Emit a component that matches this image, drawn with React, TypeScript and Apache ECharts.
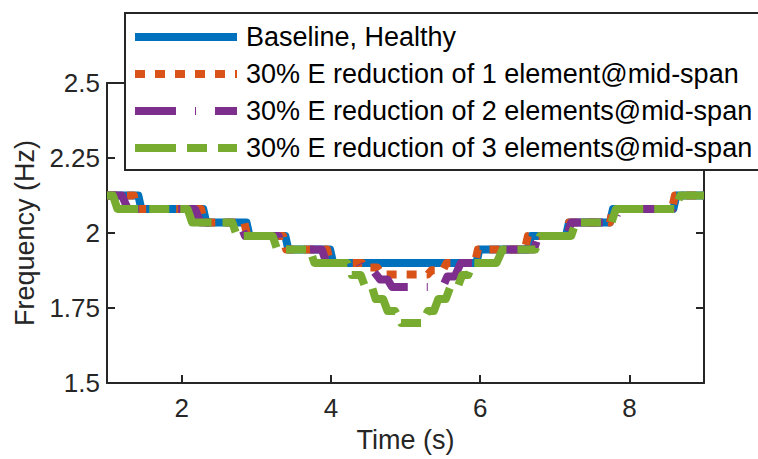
import React, { useEffect, useRef } from "react";
import * as echarts from "echarts";

const FONT = '"Liberation Sans", Arial, Helvetica, sans-serif';
const AXIS = "#262626";

const legendLabels = [
  "Baseline, Healthy",
  "30% E reduction of 1 element@mid-span",
  "30% E reduction of 2 elements@mid-span",
  "30% E reduction of 3 elements@mid-span",
];
const seriesColors = ["#0072BD", "#D95319", "#7E2F8E", "#77AC30"];
const xTickValues = [2, 4, 6, 8];

// [time (s), frequency (Hz)]
const baseline: [number, number][] = [
  [1, 2.125], [1.42, 2.125], [1.46, 2.08], [2.29, 2.08], [2.33, 2.035],
  [2.87, 2.035], [2.91, 1.99], [3.39, 1.99], [3.43, 1.945], [3.99, 1.945],
  [4.03, 1.9], [5.95, 1.9], [5.99, 1.945], [6.64, 1.945], [6.68, 1.99],
  [7.15, 1.99], [7.19, 2.035], [7.74, 2.035], [7.78, 2.08], [8.59, 2.08],
  [8.63, 2.125], [9, 2.125],
];
const oneElement: [number, number][] = [
  [1, 2.125], [1.36, 2.125], [1.4, 2.08], [2.26, 2.08], [2.3, 2.035],
  [2.84, 2.035], [2.88, 1.99], [3.36, 1.99], [3.4, 1.945], [3.95, 1.945],
  [3.99, 1.9], [4.42, 1.9], [4.46, 1.885], [4.62, 1.885], [4.68, 1.862],
  [5.3, 1.862], [5.35, 1.876], [5.5, 1.876], [5.55, 1.9], [5.93, 1.9],
  [5.97, 1.945], [6.6, 1.945], [6.64, 1.99], [7.15, 1.99], [7.19, 2.035],
  [7.74, 2.035], [7.78, 2.08], [8.57, 2.08], [8.61, 2.125], [9, 2.125],
];
const twoElements: [number, number][] = [
  [1, 2.125], [1.2, 2.125], [1.28, 2.08], [2.18, 2.08], [2.25, 2.035],
  [2.78, 2.035], [2.85, 1.99], [3.3, 1.99], [3.36, 1.945], [3.88, 1.945],
  [3.94, 1.9], [4.38, 1.9], [4.44, 1.87], [4.58, 1.87], [4.66, 1.845],
  [4.76, 1.845], [4.82, 1.82], [5.5, 1.82], [5.56, 1.855], [5.66, 1.855],
  [5.74, 1.9], [6.26, 1.9], [6.32, 1.945], [6.72, 1.945], [6.78, 1.99],
  [7.16, 1.99], [7.22, 2.035], [7.8, 2.035], [7.86, 2.08], [8.58, 2.08],
  [8.64, 2.125], [9, 2.125],
];
const threeElements: [number, number][] = [
  [1, 2.125], [1.08, 2.125], [1.14, 2.08], [2.08, 2.08], [2.14, 2.035],
  [2.68, 2.035], [2.74, 1.99], [3.22, 1.99], [3.28, 1.945], [3.72, 1.945],
  [3.78, 1.9], [4.22, 1.9], [4.28, 1.86], [4.4, 1.86], [4.46, 1.82],
  [4.55, 1.82], [4.6, 1.78], [4.7, 1.78], [4.76, 1.74], [4.86, 1.74],
  [4.94, 1.7], [5.22, 1.7], [5.3, 1.74], [5.38, 1.74], [5.44, 1.78],
  [5.54, 1.78], [5.6, 1.82], [5.7, 1.82], [5.76, 1.86], [5.84, 1.86],
  [5.9, 1.9], [6.22, 1.9], [6.3, 1.945], [6.74, 1.945], [6.8, 1.99],
  [7.22, 1.99], [7.28, 2.035], [7.76, 2.035], [7.82, 2.08], [8.62, 2.08],
  [8.68, 2.125], [9, 2.125],
];

const seriesData = [baseline, oneElement, twoElements, threeElements];
const dashPatterns: (number[] | null)[] = [null, [10, 10], [41, 19, 1, 19], [41, 11, 20, 11]];

export default function App() {
  const ref = useRef<HTMLDivElement>(null);
  useEffect(() => {
    if (!ref.current) return;
    const chart = echarts.init(ref.current, undefined, { renderer: "svg" });

    const axisLineStyle = { color: AXIS, width: 2 };
    const legendRowsY = [37, 74, 111, 148];

    const graphic: any[] = [
      {
        type: "rect",
        z: 100,
        shape: { x: 125, y: 13, width: 720, height: 157 },
        style: { fill: "#ffffff", stroke: AXIS, lineWidth: 2 },
        silent: true,
      },
    ];
    legendLabels.forEach((label, i) => {
      const y = legendRowsY[i];
      graphic.push({
        type: "line",
        z: 101,
        shape: { x1: 135, y1: y, x2: 237, y2: y },
        style: {
          stroke: seriesColors[i],
          lineWidth: 8,
          lineDash: dashPatterns[i] || undefined,
          lineCap: "butt",
        },
        silent: true,
      });
      graphic.push({
        type: "text",
        z: 101,
        x: 246,
        y: y,
        style: {
          text: label,
          fontFamily: FONT,
          fontSize: 27,
          fill: "#000000",
          verticalAlign: "middle",
          align: "left",
        },
        silent: true,
      });
    });

    const option: any = {
      animation: false,
      grid: { left: 107, right: 54, top: 83, bottom: 76, show: false },
      xAxis: [
        {
          type: "value",
          min: 1,
          max: 9,
          position: "bottom",
          name: "Time (s)",
          nameLocation: "middle",
          nameGap: 43,
          nameTextStyle: { fontFamily: FONT, fontSize: 27, color: AXIS },
          axisLine: { show: true, onZero: false, lineStyle: axisLineStyle },
          axisTick: { show: true, inside: true, length: 8, customValues: xTickValues, lineStyle: axisLineStyle },
          axisLabel: { customValues: xTickValues, fontFamily: FONT, fontSize: 26, color: AXIS, margin: 12 },
          splitLine: { show: false },
        },
        {
          type: "value",
          min: 1,
          max: 9,
          position: "top",
          axisLine: { show: true, onZero: false, lineStyle: axisLineStyle },
          axisTick: { show: false },
          axisLabel: { show: false },
          splitLine: { show: false },
        },
      ],
      yAxis: [
        {
          type: "value",
          min: 1.5,
          max: 2.5,
          interval: 0.25,
          position: "left",
          name: "Frequency (Hz)",
          nameLocation: "middle",
          nameGap: 64,
          nameTextStyle: { fontFamily: FONT, fontSize: 27, color: AXIS },
          axisLine: { show: true, onZero: false, lineStyle: axisLineStyle },
          axisTick: { show: true, inside: true, length: 8, lineStyle: axisLineStyle },
          axisLabel: { fontFamily: FONT, fontSize: 26, color: AXIS, margin: 7 },
          splitLine: { show: false },
        },
        {
          type: "value",
          min: 1.5,
          max: 2.5,
          interval: 0.25,
          position: "right",
          axisLine: { show: true, onZero: false, lineStyle: axisLineStyle },
          axisTick: { show: true, inside: true, length: 8, lineStyle: axisLineStyle },
          axisLabel: { show: false },
          splitLine: { show: false },
        },
      ],
      series: seriesData.map((data, i) => ({
        type: "line",
        name: legendLabels[i],
        xAxisIndex: 0,
        yAxisIndex: 0,
        data,
        symbol: "none",
        showSymbol: false,
        silent: true,
        clip: true,
        z: 2 + i,
        lineStyle: {
          color: seriesColors[i],
          width: 8,
          type: dashPatterns[i] || "solid",
          cap: "butt",
          join: "round",
        },
      })),
      graphic,
    };

    chart.setOption(option);
    return () => chart.dispose();
  }, []);

  return (
    <div
      ref={ref}
      style={{ position: "fixed", left: 0, top: 0, width: 758, height: 459, background: "#ffffff" }}
    />
  );
}
